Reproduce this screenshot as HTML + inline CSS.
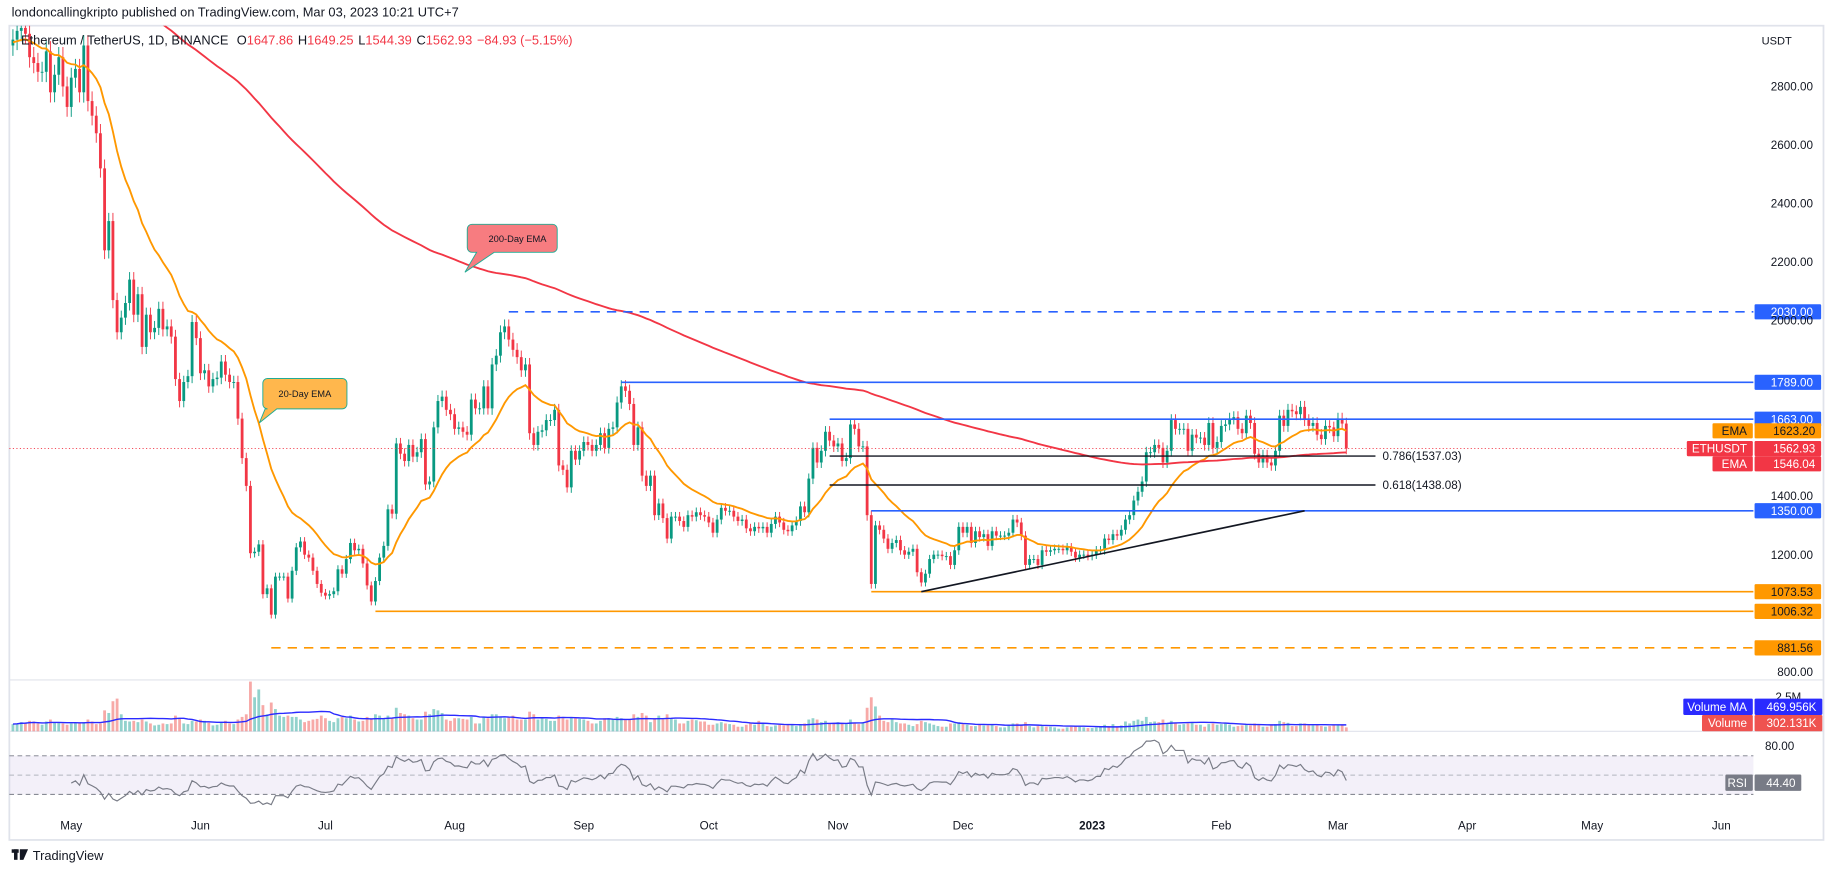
<!DOCTYPE html>
<html><head><meta charset="utf-8">
<style>
html,body{margin:0;padding:0;background:#fff;}
svg{display:block;font-family:"Liberation Sans",sans-serif;}
</style></head>
<body>
<svg id="chart" xmlns="http://www.w3.org/2000/svg" width="1834" height="875" viewBox="0 0 1570 749" preserveAspectRatio="none">
  <defs>
    <clipPath id="mainclip"><rect x="8" y="22" width="1493" height="560"/></clipPath>
  </defs>
  <text x="10" y="14" font-size="11" fill="#131722">londoncallingkripto published on TradingView.com, Mar 03, 2023 10:21 UTC+7</text>
  <rect x="8" y="22" width="1553" height="697" fill="none" stroke="#e0e3eb" stroke-width="1.5"/>
  <line x1="8" y1="582" x2="1561" y2="582" stroke="#e0e3eb"/>
  <line x1="8" y1="626" x2="1561" y2="626" stroke="#e0e3eb"/>
  <rect x="8" y="647" width="1493" height="33" fill="#7e57c2" fill-opacity="0.09"/>
  <line x1="8" y1="647" x2="1501" y2="647" stroke="#787b86" stroke-dasharray="4,3" stroke-width="0.8"/>
  <line x1="8" y1="663.5" x2="1501" y2="663.5" stroke="#b2b5be" stroke-dasharray="4,3" stroke-width="0.8"/>
  <line x1="8" y1="680" x2="1501" y2="680" stroke="#787b86" stroke-dasharray="4,3" stroke-width="0.8"/>
  <g id="vol"></g>
  <g id="plot" clip-path="url(#mainclip)"></g>
  <g id="overlay"></g>
  <g id="axis"></g>
  <text x="18" y="38" font-size="11" fill="#131722">Ethereum / TetherUS, 1D, BINANCE <tspan dx="4">O</tspan><tspan fill="#f23645">1647.86</tspan><tspan dx="4">H</tspan><tspan fill="#f23645">1649.25</tspan><tspan dx="4">L</tspan><tspan fill="#f23645">1544.39</tspan><tspan dx="4">C</tspan><tspan fill="#f23645">1562.93</tspan><tspan dx="4" fill="#f23645">−84.93 (−5.15%)</tspan></text>
  <text x="1508" y="38" font-size="9.5" fill="#131722">USDT</text>
  <g>
    <rect x="10" y="727" width="6" height="3" fill="#131722"/><rect x="12" y="727" width="3" height="9" fill="#131722"/><path d="M17 727 h7 l-4 9 h-3z" fill="#131722"/>
    <text x="28" y="736" font-size="11" fill="#131722">TradingView</text>
  </g>
</svg>
<script>
const closes = [
2960,2990,3000,2980,2900,2880,2850,2850,2920,2780,2840,2900,2800,2730,
2830,2860,2780,2940,2750,2700,2640,2520,2240,2340,2070,1960,2010,2060,2140,2020,2090,1910,2020,1960,1975,2040,1970,1980,1945,1800,1725,1790,1810,1995,1940,
1820,1830,1775,1800,1805,1860,1815,1790,1790,1665,1530,1435,1205,1210,1235,1065,1085,995,1125,1125,1125,1050,1145,1225,1245,1200,1190,1145,1100,1070,
1060,1065,1075,1150,1135,1185,1240,1215,1220,1170,1095,1040,1110,1190,1230,1355,1340,1580,1545,1520,1575,1535,1550,1595,1440,1450,1635,1725,1740,1695,1680,
1630,1635,1620,1610,1730,1700,1700,1775,1700,1850,1880,1960,1980,1935,1900,1875,1830,1850,1615,1575,1620,1625,1660,1660,1695,1505,1490,1430,1555,1525,1555,
1585,1575,1555,1575,1615,1565,1630,1635,1720,1775,1760,1715,1575,1635,1470,1435,1470,1335,1375,1325,1255,1330,1330,1315,1295,1335,1330,1345,1335,1330,
1310,1275,1320,1360,1350,1350,1330,1315,1320,1290,1280,1295,1290,1295,1275,1305,1330,1310,1285,1280,1300,1315,1365,1345,1460,1565,1515,1555,1620,1590,1570,
1580,1520,1530,1645,1630,1570,1570,1335,1100,1300,1285,1255,1220,1240,1250,1215,1200,1210,1220,1140,1105,1135,1185,1200,1200,1195,1195,1165,1215,1295,
1275,1295,1240,1280,1260,1270,1230,1280,1265,1265,1265,1275,1320,1310,1265,1165,1185,1185,1165,1215,1210,1215,1220,1220,1215,1225,1210,1190,1200,1200,1195,
1200,1215,1215,1255,1250,1270,1265,1285,1320,1335,1385,1415,1450,1550,1550,1575,1565,1515,1555,1660,1630,1630,1630,1555,1610,1600,1600,1575,1650,1565,1585,
1640,1645,1665,1670,1630,1615,1675,1650,1545,1515,1540,1515,1505,1555,1675,1640,1695,1690,1680,1705,1660,1640,1650,1610,1595,1640,1635,1605,
1665,1648,1563];
const firstOpen = 2940;
const volumes = [
.55,.6,.7,.65,.8,.75,.6,.5,.75,.9,.7,.65,.6,.5,
.6,.65,.6,.7,.9,.75,.55,.6,1.6,1.4,2.3,2.5,1.3,.8,.75,.8,.7,.9,.75,.6,.45,.5,.6,.55,.6,1.2,.95,.6,.55,.8,.75,
.9,.8,.65,.45,.5,.7,.8,.6,.55,.9,1.1,1.3,3.8,2.6,3.2,2.0,1.3,2.2,1.7,1.2,1.1,1.2,1.1,1.1,.9,.7,.8,.9,.95,1.2,
1.0,.8,.7,1.0,1.1,1.0,1.2,.9,.75,.8,1.1,1.0,1.3,1.2,1.0,1.2,1.0,1.8,1.4,1.3,1.2,1.0,.9,.9,1.5,1.3,1.7,1.6,1.4,.9,.8,
1.0,1.0,.95,.9,1.1,.6,.6,1.1,1.0,1.3,1.3,1.1,1.0,1.1,1.2,.9,.9,.9,1.5,1.3,.9,1.0,.95,.8,.8,1.2,1.0,.9,1.1,1.0,.95,
.9,.8,.6,.6,.8,1.0,1.0,.9,1.1,1.0,.9,.9,1.3,1.1,1.4,1.2,.7,1.0,1.2,.9,1.3,1.0,.9,.6,.6,.8,.9,.85,.75,.75,
.5,.5,.6,.7,.6,.55,.5,.35,.35,.5,.6,.5,.8,.6,.4,.35,.45,.5,.45,.5,.5,.4,.5,.6,.9,1.0,.9,.7,.8,.6,.65,
.7,.6,.55,.9,.6,.55,.7,1.8,2.6,1.9,1.2,.8,.7,.9,.7,.6,.6,.5,.4,.55,.8,.7,.6,.5,.4,.35,.35,.6,.6,.7,
.55,.5,.4,.4,.5,.45,.45,.5,.4,.3,.3,.45,.6,.6,.5,.7,.4,.3,.4,.45,.35,.35,.3,.2,.2,.3,.35,.4,.35,.3,.25,
.25,.3,.35,.5,.4,.55,.3,.45,.75,.6,.8,.9,.8,1.1,.7,.75,.7,.9,.6,.8,.65,.5,.55,.6,.65,.5,.5,.35,.55,.6,.5,
.55,.65,.5,.35,.4,.45,.5,.45,.6,.55,.35,.35,.5,.55,.8,.7,.65,.4,.4,.6,.6,.45,.45,.5,.4,.35,.4,.45,
.5,.45,.3];
const ema20Seed = 2950;
const ema200Seed = 3250;
const priceTicks = [2800,2600,2400,2200,2000,1400,1200,800];
const levelPrices = [2030,1789,1663,1350,1073.53,1006.32,881.56];
const levelStartIdx = [119,146,196,206,206,87,62];
const fibPrices = [1537.03,1438.08];
const fibLabels = ["0.786(1537.03)","0.618(1438.08)"];
const monthLabels = ["May","Jun","Jul","Aug","Sep","Oct","Nov","Dec","2023","Feb","Mar","Apr","May","Jun"];
const monthDays = [0,31,61,92,123,153,184,214,245,276,304,335,365,396];

const NS = "http://www.w3.org/2000/svg";
const plot = document.getElementById('plot');
const vol = document.getElementById('vol');
const overlay = document.getElementById('overlay');
const axis = document.getElementById('axis');
function xOf(i){ return 61 + (i-14)*3.567; }
function xDay(d){ return 61 + d*3.567; }
function yP(p){ return 74 + (2800-p)*0.2505; }
function yV(v){ return 626 - v*11.2; }
function yR(r){ return 647 + (70-r)*0.825; }
function mk(tag, attrs, parent){ const e=document.createElementNS(NS,tag); for(const k in attrs) e.setAttribute(k,attrs[k]); (parent||plot).appendChild(e); return e; }

for(let i=0;i<closes.length;i++){
  const o = i===0?firstOpen:closes[i-1], c=closes[i], up=c>=o;
  const r = mk('rect',{x:xOf(i)-1.2,y:yV(volumes[i]),width:2.4,height:626-yV(volumes[i]),fill:up?'#26a69a':'#ef5350','fill-opacity':0.5},vol);
  
  
}
let vp=[];
for(let i=0;i<volumes.length;i++){ let s=0,n=0; for(let j=Math.max(0,i-19);j<=i;j++){s+=volumes[j];n++;} vp.push(xOf(i).toFixed(1)+','+yV(s/n).toFixed(1)); }
const vma = mk('polyline',{points:vp.join(' '),fill:'none',stroke:'#2a2aff','stroke-width':1.2},vol);



for(let i=0;i<closes.length;i++){
  const o = i===0?firstOpen:closes[i-1], c=closes[i], up=c>=o;
  const col = up?'#089981':'#f23645';
  const top=Math.max(o,c), bot=Math.min(o,c), w=top*0.012;
  const wk = mk('line',{x1:xOf(i),x2:xOf(i),y1:yP(top+w),y2:yP(bot-w),stroke:col,'stroke-width':0.8});
  
  
  const b = mk('rect',{x:xOf(i)-1.2,y:yP(top),width:2.4,height:Math.max(0.8,yP(bot)-yP(top)),fill:col});
  
  
}
function ema(seed,n){ const a=2/(n+1); let e=seed, out=[]; for(const c of closes){ e=e+a*(c-e); out.push(e);} return out; }
const e20=ema(ema20Seed,20), e200=ema(ema200Seed,200);
const l20 = mk('polyline',{points:e20.map((v,i)=>xOf(i).toFixed(1)+','+yP(v).toFixed(1)).join(' '),fill:'none',stroke:'#ff9800','stroke-width':1.6});


const l200 = mk('polyline',{points:e200.map((v,i)=>xOf(i).toFixed(1)+','+yP(v).toFixed(1)).join(' '),fill:'none',stroke:'#f23645','stroke-width':1.6});



let ag=0,al=0,rp=[];
for(let i=1;i<closes.length;i++){
  const d=closes[i]-closes[i-1], g=Math.max(d,0), l=Math.max(-d,0);
  if(i<=14){ ag+=g/14; al+=l/14; } else { ag=(ag*13+g)/14; al=(al*13+l)/14; }
  if(i>=14){ const r = al===0?100:100-100/(1+ag/al); rp.push(xOf(i).toFixed(1)+','+yR(r).toFixed(1)); }
}
const rl = mk('polyline',{points:rp.join(' '),fill:'none',stroke:'#787b86','stroke-width':1},vol);



const levelColors=['#2962ff','#2962ff','#2962ff','#2962ff','#ff9800','#ff9800','#ff9800'];
for(let k=0;k<levelPrices.length;k++){
  const dashed = (k===0||k===6);
  const ln = mk('line',{x1:xOf(levelStartIdx[k]),x2:1501,y1:yP(levelPrices[k]),y2:yP(levelPrices[k]),stroke:levelColors[k],'stroke-width':1.4,'stroke-dasharray':dashed?'8,6':'none'},overlay);
  
  
  const bx = mk('rect',{x:1502,y:yP(levelPrices[k])-6.5,width:57,height:13,fill:levelColors[k],rx:1},axis);
  
  
  const t = mk('text',{x:1552,y:yP(levelPrices[k])+3.5,'font-size':10,'text-anchor':'end',fill:k<4?'#fff':'#131722'},axis);
  t.textContent = levelPrices[k].toFixed(2);
  
  
}
for(let k=0;k<fibPrices.length;k++){
  const ln = mk('line',{x1:xOf(196),x2:xOf(327),y1:yP(fibPrices[k]),y2:yP(fibPrices[k]),stroke:'#131722','stroke-width':1.2},overlay);
  
  
  const t = mk('text',{x:xOf(327)+6,y:yP(fibPrices[k])+3.5,'font-size':10,fill:'#131722'},overlay);
  t.textContent = fibLabels[k];
  
  
}
const tl = mk('line',{x1:xOf(218),y1:yP(1073.53),x2:xOf(310),y2:yP(1350),stroke:'#131722','stroke-width':1.4},overlay);


const cp = mk('line',{x1:8,x2:1501,y1:yP(1562.93),y2:yP(1562.93),stroke:'#f23645','stroke-width':0.8,'stroke-dasharray':'1,2'},overlay);



const c1 = mk('path',{d:'M413 192 h60 a4 4 0 0 1 4 4 v16 a4 4 0 0 1 -4 4 h-52 l-23 17 l11 -17 h0 a4 4 0 0 1 -0 0 h-0 a4 4 0 0 1 -0 0 h0 l-0 0 h0 l-0 0 z',fill:'#f77c80',stroke:'#22ab94','stroke-width':0.8},overlay);
c1.setAttribute('d','M413 192 h60 a4 4 0 0 1 4 4 v16 a4 4 0 0 1 -4 4 h-50 l-25 17 l11 -17 a4 4 0 0 1 -0 0 h0 a4 4 0 0 1 -0 0 M413 192 a4 4 0 0 0 -4 4 v16 a4 4 0 0 0 4 4 h10');
c1.setAttribute('d','M413 192 h60 a4 4 0 0 1 4 4 v16 a4 4 0 0 1 -4 4 h-50 l-25 17 l10 -17 h-4 a4 4 0 0 1 -4 -4 v-16 a4 4 0 0 1 4 -4 z');


const c1t = mk('text',{x:443,y:207,'font-size':8,'text-anchor':'middle',fill:'#131722'},overlay);
c1t.textContent='200-Day EMA';


const c2 = mk('path',{d:'M229 324 h64 a4 4 0 0 1 4 4 v18 a4 4 0 0 1 -4 4 h-56 l-15 12 l5 -12 h2 a4 4 0 0 1 -4 -4 v-18 a4 4 0 0 1 4 -4 z',fill:'#ffb74d',stroke:'#22ab94','stroke-width':0.8},overlay);


const c2t = mk('text',{x:261,y:340,'font-size':8,'text-anchor':'middle',fill:'#131722'},overlay);
c2t.textContent='20-Day EMA';



for(const p of priceTicks){
  const t = mk('text',{x:1552,y:yP(p)+3.5,'font-size':10,'text-anchor':'end',fill:'#131722'},axis);
  t.textContent = p.toFixed(2);
  
  
}
for(let k=0;k<monthLabels.length;k++){
  const t = mk('text',{x:xDay(monthDays[k]),y:710,'font-size':10,'text-anchor':'middle',fill:'#131722','font-weight':monthLabels[k]==='2023'?'bold':'normal'},axis);
  t.textContent = monthLabels[k];
  
  
}
function tag(x,y,w,h,fill,txt,txtFill,name){
  const r = mk('rect',{x:x,y:y,width:w,height:h,fill:fill,rx:1},axis);
  
  
  const t = mk('text',{x:x+w-5,y:y+h/2+3.5,'font-size':10,'text-anchor':'end',fill:txtFill},axis);
  t.textContent = txt;
  
  
}
tag(1466,362.3,34.5,13,'#ff9800','EMA','#131722','ema20-name-tag');
tag(1502,362.3,57,13,'#ff9800','1623.20','#131722','ema20-value-tag');
tag(1444,377.5,56.5,13,'#f23645','ETHUSDT','#fff','symbol-name-tag');
tag(1502,377.5,57,13,'#f23645','1562.93','#fff','symbol-price-tag');
tag(1466,390.5,34.5,13,'#f23645','EMA','#fff','ema200-name-tag');
tag(1502,390.5,57,13,'#f23645','1546.04','#fff','ema200-value-tag');
const vl = mk('text',{x:1542,y:600,'font-size':10,'text-anchor':'end',fill:'#131722'},axis);
vl.textContent='2.5M';


tag(1441,598,59.5,14,'#2a2aff','Volume MA','#fff','volume-ma-name-tag');
tag(1502,598,58,14,'#2a2aff','469.956K','#fff','volume-ma-value-tag');
tag(1457,612,43.5,14,'#ef5350','Volume','#fff','volume-name-tag');
tag(1502,612,58,14,'#ef5350','302.131K','#fff','volume-value-tag');
const r80 = mk('text',{x:1536,y:642,'font-size':10,'text-anchor':'end',fill:'#131722'},axis);
r80.textContent='80.00';


tag(1477,663,23.5,14,'#787b86','RSI','#fff','rsi-name-tag');
tag(1502,663,40,14,'#787b86','44.40','#fff','rsi-value-tag');
</script>
</body></html>
